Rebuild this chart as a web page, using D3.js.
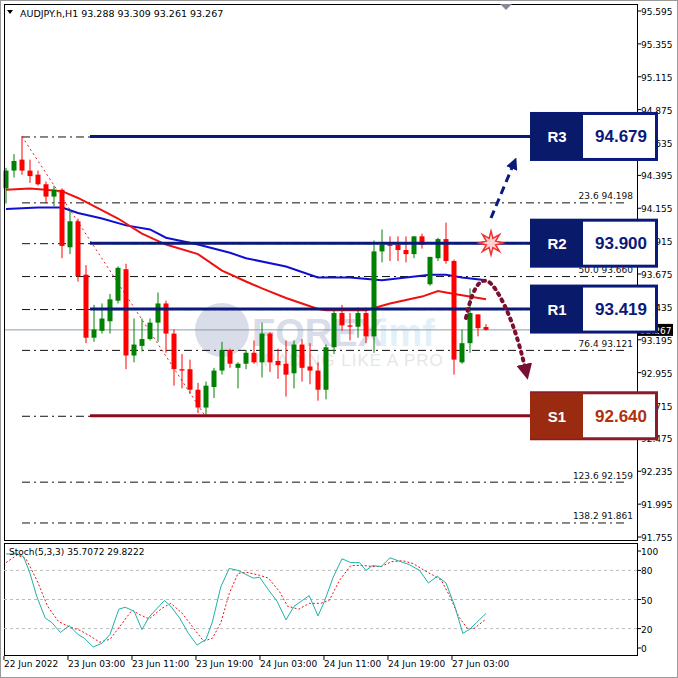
<!DOCTYPE html>
<html>
<head>
<meta charset="utf-8">
<script src="https://cdn.jsdelivr.net/npm/d3@7"></script>
<style>
  body { margin: 0; background: #fff; }
  svg { display: block; font-family: "DejaVu Sans", sans-serif; }
</style>
</head>
<body>
<svg id="chart" width="678" height="678"></svg>
<script>
// candles: open, high, low, close (H1)
const opens  = [94.30,94.43,94.51,94.43,94.40,94.33,94.24,94.29,93.87,94.06,93.67,93.21,93.26,93.33,93.48,93.71,93.08,93.15,93.20,93.32,93.46,93.24,92.98,92.98,92.83,92.70,92.85,92.97,93.12,92.99,93.02,93.10,93.03,93.24,93.04,93.02,92.95,93.16,93.00,92.97,92.83,93.14,93.39,93.30,93.29,93.39,93.22,93.84,93.89,93.89,93.85,93.82,93.95,93.60,93.79,93.93,93.77,93.03,93.17,93.38,93.288];
const highs  = [94.45,94.55,94.68,94.51,94.43,94.35,94.32,94.30,94.14,94.08,93.74,93.45,93.46,93.53,93.73,93.75,93.35,93.35,93.35,93.54,93.48,93.27,93.09,93.05,92.88,92.89,92.99,93.18,93.13,93.03,93.12,93.19,93.32,93.25,93.13,93.19,93.19,93.20,93.17,93.03,93.16,93.41,93.45,93.39,93.43,93.43,93.92,94.00,93.95,93.95,93.95,93.95,93.97,93.80,93.94,94.05,93.78,93.27,93.57,93.38,93.309];
const lows   = [94.19,94.38,94.40,94.34,94.32,94.19,94.17,93.79,93.82,93.62,93.17,93.18,93.24,93.24,93.46,92.98,93.03,93.11,93.19,93.18,93.10,92.86,92.84,92.80,92.66,92.64,92.77,92.94,92.99,92.84,92.98,93.02,92.92,92.96,92.91,92.78,92.84,92.89,92.87,92.75,92.76,93.09,93.26,93.19,93.21,93.17,93.10,93.76,93.77,93.77,93.76,93.79,93.86,93.59,93.77,93.75,92.94,93.02,93.10,93.22,93.261];
const closes = [94.43,94.50,94.43,94.39,94.33,94.24,94.29,93.88,94.06,93.66,93.21,93.27,93.35,93.49,93.72,93.08,93.16,93.20,93.32,93.46,93.24,92.98,92.97,92.83,92.70,92.86,92.97,93.12,93.02,93.02,93.10,93.03,93.24,93.03,93.01,92.94,93.16,92.99,92.97,92.83,93.14,93.39,93.30,93.29,93.39,93.22,93.84,93.89,93.88,93.85,93.82,93.95,93.89,93.80,93.93,93.77,93.05,93.17,93.39,93.28,93.267];

// moving averages read at bar indices
const maFastIdx = [0,3,7,9,11,14,17,20,24,27,30,32,35,39,40,45,48,52,54,55,57,60];
const maFastVal = [94.29,94.30,94.28,94.23,94.17,94.08,93.97,93.89,93.82,93.70,93.62,93.57,93.50,93.42,93.41,93.41,93.46,93.51,93.55,93.54,93.52,93.49];
const maSlowIdx = [0,4,7,9,12,15,18,20,24,28,30,35,39,43,47,50,53,55,57,60];
const maSlowVal = [94.15,94.16,94.16,94.12,94.08,94.03,94.00,93.94,93.89,93.83,93.79,93.73,93.65,93.65,93.63,93.65,93.67,93.67,93.65,93.63];

// stochastic (5,3,3)
const kIdx = [0,1.4,2.2,3,3.85,4.9,5.75,6.8,7.9,9,9.8,10.9,12,13,14.1,14.9,16,17,17.9,19.8,20.6,21.7,22.8,23.9,25,25.8,26.85,27.9,29,30.9,31.7,32.8,33.9,35,36,37.9,39,39.8,40.9,42,43.1,44.2,45,45.8,46.9,48,49,50.4,51.7,52.8,53.9,55,56.1,57.1,57.9,58.8,60];
const kVal = [97,97,94,77,53,31,26,16,23,14,10,1,5,14,40,42,38,19,32,49,43,31,15,3,9,27,63,82,80,72,73,60,48,29,43,54,33,48,73,92,88,88,80,85,84,93,90,86,80,67,74,67,43,15,19,26,35.7];
const dIdx = [0,1.4,2.5,3.85,5.2,6.6,7.9,9.3,10.6,11.7,13,14.4,15.75,16.8,17.9,19.5,20.6,22,23.3,24.7,25.8,26.85,27.9,29,30.1,31.7,32.8,34.2,35.2,36.6,37.9,39.3,40.4,41.7,43.1,44.7,45.8,46.9,48.2,49.6,50.9,52.3,53.4,54.4,55.5,56.6,57.7,58.5,60];
const dVal = [88,96,92,70,43,27,22,18,12,6,9,24,39,34,30,41,46,36,22,7,10,26,56,77,78,75,72,58,43,40,46,46,49,70,85,85,84,84,89,90,87,80,75,70,53,32,20,20,29.8];

const priceTicks = [95.595,95.355,95.115,94.875,94.635,94.395,94.155,93.915,93.675,93.435,93.195,92.955,92.715,92.475,92.235,91.995,91.755];
const timeIdx = [0,8,16,24,32,40,48,56];
const timeLabels = ["22 Jun 2022","23 Jun 03:00","23 Jun 11:00","23 Jun 19:00","24 Jun 03:00","24 Jun 11:00","24 Jun 19:00","27 Jun 03:00"];
const fibNames = ["23.6","50.0","76.4","123.6","138.2"];
const fibPrices = [94.198,93.660,93.121,92.159,91.861];
const fibHidden = [94.679,93.900,93.419,92.640];
const levelNames = ["R3","R2","R1","S1"];
const levelPrices = [94.679,93.900,93.419,92.640];
const stochTicks = [100,80,50,20,0];

const svg = d3.select("#chart");
const L = 4, R = 637, T = 4, B = 540;
const x = d3.scaleLinear().domain([0, 60]).range([6, 486]);
const y = d3.scaleLinear().domain([91.755, 95.595]).range([537, 11]);
const ys = d3.scaleLinear().domain([0, 100]).range([648, 551]);

svg.append("rect").attr("x", 0.5).attr("y", 0.5).attr("width", 677).attr("height", 677)
  .attr("fill", "#fff").attr("stroke", "#999");

// watermark
const wm = svg.append("g").attr("opacity", 0.16);
wm.append("circle").attr("cx", 222).attr("cy", 330).attr("r", 27).attr("fill", "#1a2a7a");
wm.append("text").attr("x", 252).attr("y", 346).attr("font-size", 38).attr("font-weight", "bold")
  .attr("font-family", "Liberation Sans").attr("fill", "#1a2a7a").text("FOREX");
wm.append("text").attr("x", 378).attr("y", 346).attr("font-size", 38).attr("font-weight", "bold")
  .attr("font-family", "Liberation Sans").attr("fill", "#4aa8e0").text("imf");
wm.append("text").attr("x", 252).attr("y", 366).attr("font-size", 17).attr("letter-spacing", 1)
  .attr("font-family", "Liberation Sans").attr("fill", "#666").text("TRADING LIKE A PRO");

// fibo lines
const fibAll = fibPrices.concat(fibHidden);
svg.selectAll(".fib").data(fibAll).enter().append("line")
  .attr("x1", 22).attr("x2", 628).attr("y1", d => y(d) + 0.5).attr("y2", d => y(d) + 0.5)
  .attr("stroke", "#111").attr("stroke-dasharray", "8,4,2,4");
svg.selectAll(".fibt").data(fibPrices).enter().append("text")
  .attr("x", 633).attr("y", d => y(d) - 3).attr("text-anchor", "end")
  .attr("font-size", 9).attr("fill", "#111")
  .text((d, i) => fibNames[i] + "    " + d.toFixed(3));
svg.append("line").attr("x1", 22).attr("y1", y(94.679)).attr("x2", 205).attr("y2", y(92.640))
  .attr("stroke", "#e02020").attr("stroke-dasharray", "2,3");

// current price line
svg.append("line").attr("x1", L).attr("x2", R).attr("y1", y(93.267)).attr("y2", y(93.267))
  .attr("stroke", "#8a9ab0");

// moving averages
const idxLine = (xs, vs, sc) => d3.line().x((d, i) => x(xs[i])).y(d => sc(d))(vs);
svg.append("path").attr("d", idxLine(maSlowIdx, maSlowVal, y)).attr("fill", "none")
  .attr("stroke", "#1010d0").attr("stroke-width", 2);
svg.append("path").attr("d", idxLine(maFastIdx, maFastVal, y)).attr("fill", "none")
  .attr("stroke", "#f01010").attr("stroke-width", 2);

// candles
const bars = d3.range(opens.length);
const cg = svg.append("g");
cg.selectAll(".wick").data(bars).enter().append("line")
  .attr("x1", i => x(i)).attr("x2", i => x(i))
  .attr("y1", i => y(highs[i])).attr("y2", i => y(lows[i]))
  .attr("stroke", i => closes[i] > opens[i] ? "#008000" : closes[i] < opens[i] ? "#ff0000" : "#000");
cg.selectAll(".body").data(bars).enter().append("rect")
  .attr("x", i => x(i) - 2.5).attr("width", 5)
  .attr("y", i => y(Math.max(opens[i], closes[i])))
  .attr("height", i => Math.max(1, Math.abs(y(opens[i]) - y(closes[i]))))
  .attr("fill", i => closes[i] > opens[i] ? "#008000" : closes[i] < opens[i] ? "#ff0000" : "#000");

// support / resistance
svg.selectAll(".lvl").data(levelPrices).enter().append("line")
  .attr("x1", 90).attr("x2", 530).attr("y1", d => y(d)).attr("y2", d => y(d))
  .attr("stroke", (d, i) => levelNames[i] === "S1" ? "#8b0a1e" : "#0a1a7a").attr("stroke-width", 3);

// frames
svg.append("rect").attr("x", L + 0.5).attr("y", T + 0.5).attr("width", R - L).attr("height", B - T)
  .attr("fill", "none").attr("stroke", "#000");
svg.append("rect").attr("x", L + 0.5).attr("y", 543.5).attr("width", R - L).attr("height", 112)
  .attr("fill", "none").attr("stroke", "#000");
svg.append("path").attr("d", "M500,4 L512,4 L506,10 Z").attr("fill", "#889");

// price axis
svg.selectAll(".pt").data(priceTicks).enter().append("line")
  .attr("x1", R).attr("x2", R + 4).attr("y1", d => y(d)).attr("y2", d => y(d)).attr("stroke", "#000");
svg.selectAll(".ptl").data(priceTicks).enter().append("text")
  .attr("x", 641).attr("y", d => y(d) + 4).attr("font-size", 9).attr("fill", "#000")
  .text(d => d.toFixed(3));

// price label on axis
svg.append("rect").attr("x", 637).attr("y", y(93.267) - 6).attr("width", 36).attr("height", 12).attr("fill", "#000");
svg.append("text").attr("x", 640).attr("y", y(93.267) + 4).attr("font-size", 9).attr("fill", "#fff").text("93.267");

// arrows
const defs = svg.append("defs");
defs.append("marker").attr("id", "ab").attr("viewBox", "0 0 10 10").attr("refX", 5).attr("refY", 5)
  .attr("markerWidth", 4).attr("markerHeight", 4).attr("orient", "auto")
  .append("path").attr("d", "M0,0L10,5L0,10z").attr("fill", "#0a1a7a");
defs.append("marker").attr("id", "ar").attr("viewBox", "0 0 10 10").attr("refX", 5).attr("refY", 5)
  .attr("markerWidth", 4).attr("markerHeight", 4).attr("orient", "auto")
  .append("path").attr("d", "M0,0L10,5L0,10z").attr("fill", "#7a1030");
svg.append("path").attr("d", "M491,218 L514,163").attr("stroke", "#0a1a7a").attr("stroke-width", 3)
  .attr("stroke-dasharray", "8,5").attr("marker-end", "url(#ab)");
svg.append("path").attr("d", "M466,318 Q478,262 496,290 T526,372").attr("fill", "none")
  .attr("stroke", "#7a1030").attr("stroke-width", 4).attr("stroke-dasharray", "2,5")
  .attr("stroke-linecap", "round").attr("marker-end", "url(#ar)");
const star = d3.range(16).map(k => {
  const a = k * Math.PI / 8, r = k % 2 ? 5 : 12;
  return [491 + r * Math.cos(a), 243 + r * Math.sin(a)];
});
svg.append("path").attr("d", d3.line()(star) + "Z").attr("fill", "#ffd0d0")
  .attr("stroke", "#f03030").attr("stroke-width", 1.5);

// level boxes (drawn over the price axis, as in the terminal)
const bx = svg.selectAll(".box").data(levelPrices).enter().append("g")
  .attr("transform", d => `translate(530,${y(d) - 23})`);
bx.append("rect").attr("x", 1.5).attr("y", 0).attr("width", 125).attr("height", 46).attr("fill", "#fff")
  .attr("stroke", (d, i) => levelNames[i] === "S1" ? "#8b1a2a" : "#0a1a7a").attr("stroke-width", 3);
bx.append("rect").attr("x", 0).attr("y", 0).attr("width", 53).attr("height", 46)
  .attr("fill", (d, i) => levelNames[i] === "S1" ? "#9a2a10" : "#0a1a6a");
bx.append("text").attr("x", 27).attr("y", 29).attr("text-anchor", "middle")
  .attr("font-family", "Liberation Sans").attr("font-weight", "bold").attr("font-size", 15)
  .attr("fill", "#fff").text((d, i) => levelNames[i]);
bx.append("text").attr("x", 91).attr("y", 29).attr("text-anchor", "middle")
  .attr("font-family", "Liberation Sans").attr("font-weight", "bold").attr("font-size", 17)
  .attr("fill", (d, i) => levelNames[i] === "S1" ? "#b03010" : "#0a1a7a").text(d => d.toFixed(3));

// header
svg.append("path").attr("d", "M7,10 L13,10 L10,14 Z").attr("fill", "#000");
svg.append("text").attr("x", 20).attr("y", 17).attr("font-size", 9.5).attr("fill", "#000")
  .text("AUDJPY.h,H1  93.288 93.309 93.261 93.267");

// stochastic
svg.selectAll(".sg").data([80, 50, 20]).enter().append("line")
  .attr("x1", L).attr("x2", R).attr("y1", d => ys(d)).attr("y2", d => ys(d))
  .attr("stroke", "#bbb").attr("stroke-dasharray", "3,3");
svg.append("path").attr("d", idxLine(dIdx, dVal, ys)).attr("fill", "none")
  .attr("stroke", "#f01010").attr("stroke-dasharray", "2,2");
svg.append("path").attr("d", idxLine(kIdx, kVal, ys)).attr("fill", "none")
  .attr("stroke", "#20b0a8");
svg.append("text").attr("x", 9).attr("y", 555).attr("font-size", 9).text("Stoch(5,3,3) 35.7072 29.8222");
svg.selectAll(".st").data(stochTicks).enter().append("text")
  .attr("x", 641).attr("y", d => ys(d) + 4).attr("font-size", 9).text(d => d);
svg.selectAll(".stt").data(stochTicks).enter().append("line")
  .attr("x1", R).attr("x2", R + 4).attr("y1", d => ys(d)).attr("y2", d => ys(d)).attr("stroke", "#000");

// time axis
svg.selectAll(".tt").data(timeIdx).enter().append("line")
  .attr("x1", i => x(i) - 2).attr("x2", i => x(i) - 2).attr("y1", 656).attr("y2", 660).attr("stroke", "#000");
svg.selectAll(".ttl").data(timeIdx).enter().append("text")
  .attr("x", i => x(i) - 2).attr("y", 667).attr("font-size", 9)
  .text((d, i) => timeLabels[i]);
</script>
</body>
</html>
